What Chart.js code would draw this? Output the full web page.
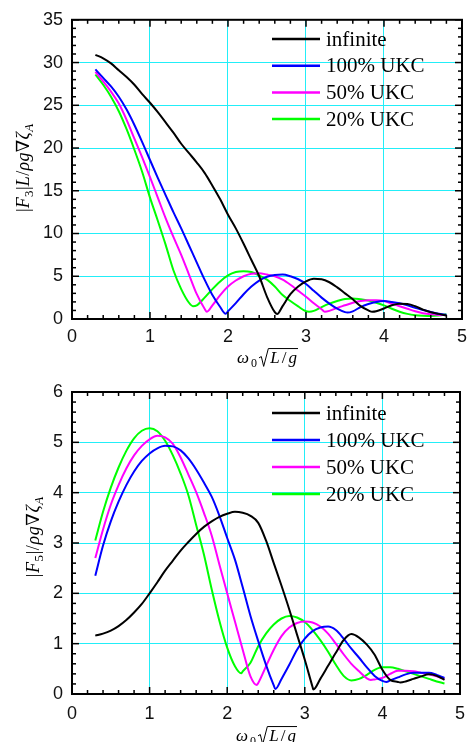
<!DOCTYPE html>
<html>
<head>
<meta charset="utf-8">
<script src="https://cdn.jsdelivr.net/npm/chart.js@4.4.0/dist/chart.umd.min.js"></script>
<style>
html, body { margin: 0; padding: 0; background: #fff; }
canvas { display: block; }
</style>
</head>
<body>
<canvas id="f3chart" width="474" height="370"></canvas>
<canvas id="f5chart" width="474" height="372"></canvas>
<script>
// frequency grid shared by every curve
const xGrid = [0.3,0.4,0.5,0.6,0.7,0.8,0.9,1.0,1.1,1.2,1.3,1.4,1.5,1.6,1.7,1.8,1.9,2.0,2.1,2.2,2.3,2.4,2.5,2.6,2.7,2.8,2.9,3.0,
               3.1,3.2,3.3,3.4,3.5,3.6,3.7,3.8,3.9,4.0,4.1,4.2,4.3,4.4,4.5,4.6,4.7,4.8];
const xTicks = [0, 1, 2, 3, 4, 5];

const seriesNames = ['infinite', '100% UKC', '50% UKC', '20% UKC'];
const seriesColors = ['#000000', '#0000ff', '#ff00ff', '#00ff00'];

// |F3| L / rho g V zeta_A
const f3YTicks = [0, 5, 10, 15, 20, 25, 30, 35];
const f3Infinite = [30.9,30.5,29.9,29.1,28.3,27.4,26.3,25.3,24.2,23.0,21.8,20.5,19.4,18.3,17.1,15.6,14.0,12.2,10.6,8.8,6.9,5.0,2.6,0.8,
                    1.5,2.9,3.8,4.4,4.7,4.65,4.3,3.7,3.0,2.3,1.5,1.0,0.9,1.23,1.6,1.78,1.75,1.5,1.1,0.8,0.6,0.42];
const f3Ukc100 = [29.2,28.2,27.2,26.0,24.5,22.7,20.7,18.6,16.5,14.5,12.5,10.6,8.6,6.6,4.6,2.8,1.4,0.9,1.85,2.9,3.8,4.5,4.95,5.15,
                  5.2,5.0,4.65,4.1,3.3,2.5,1.8,1.2,0.8,0.9,1.4,1.75,2.0,2.1,2.0,1.85,1.6,1.3,1.05,0.82,0.62,0.5];
const f3Ukc50 = [28.9,27.8,26.6,25.2,23.3,21.1,18.9,16.6,14.2,11.8,9.6,7.5,5.2,2.9,1.2,1.6,2.8,3.8,4.5,5.0,5.3,5.35,5.2,5.0,
                 4.6,4.0,3.3,2.6,1.85,1.15,0.95,1.3,1.6,1.9,2.1,2.2,2.2,2.1,1.8,1.5,1.2,0.9,0.68,0.55,0.48,0.45];
const f3Ukc20 = [28.6,27.4,26.0,24.3,22.2,19.8,17.2,14.2,11.5,8.7,5.7,3.5,1.9,1.6,2.5,3.5,4.4,5.1,5.5,5.6,5.5,5.1,4.6,3.8,
                 2.8,2.1,1.47,0.9,0.95,1.4,1.8,2.1,2.35,2.4,2.3,2.15,1.9,1.6,1.2,0.85,0.6,0.45,0.38,0.35,0.4,0.55];
// sharp minima that fall between grid points [x, y]
const f3InfiniteMin = [[2.63, 0.58], [3.85, 0.84]];
const f3Ukc100Min = [[1.97, 0.62], [3.53, 0.75]];
const f3Ukc50Min = [[1.73, 0.85], [3.24, 0.85]];
const f3Ukc20Min = [[1.55, 1.5], [3.04, 0.85]];

// |F5| / rho g V zeta_A
const f5YTicks = [0, 1, 2, 3, 4, 5, 6];
const f5Infinite = [1.16,1.2,1.26,1.35,1.47,1.62,1.79,2.0,2.22,2.45,2.65,2.85,3.02,3.18,3.32,3.43,3.52,3.58,3.62,3.6,3.54,3.4,3.05,2.6,
                    2.15,1.68,1.18,0.68,0.14,0.3,0.56,0.82,1.07,1.19,1.12,0.98,0.78,0.48,0.28,0.24,0.25,0.3,0.35,0.39,0.36,0.28];
const f5Ukc100 = [2.35,2.95,3.43,3.82,4.15,4.42,4.63,4.78,4.88,4.93,4.92,4.84,4.68,4.46,4.2,3.92,3.54,3.1,2.67,2.12,1.55,1.05,0.58,0.17,
                  0.3,0.58,0.88,1.1,1.25,1.32,1.34,1.27,1.1,0.9,0.72,0.53,0.36,0.26,0.27,0.33,0.39,0.42,0.42,0.42,0.38,0.32];
const f5Ukc50 = [2.7,3.27,3.76,4.15,4.48,4.74,4.93,5.06,5.13,5.1,4.97,4.7,4.36,4.01,3.6,3.15,2.57,2.0,1.44,0.88,0.35,0.22,0.55,0.88,
                 1.15,1.32,1.41,1.44,1.42,1.34,1.2,1.0,0.79,0.6,0.45,0.31,0.29,0.32,0.4,0.46,0.46,0.45,0.42,0.39,0.35,0.3];
const f5Ukc20 = [3.05,3.62,4.1,4.5,4.83,5.08,5.23,5.28,5.22,5.03,4.74,4.38,3.95,3.36,2.77,2.08,1.45,0.92,0.55,0.45,0.62,0.95,1.2,1.38,
                 1.5,1.55,1.52,1.43,1.27,1.07,0.84,0.58,0.36,0.27,0.3,0.38,0.48,0.53,0.53,0.5,0.45,0.4,0.35,0.3,0.25,0.21];
const f5InfiniteMin = [[3.11, 0.09], [4.23, 0.23]];
const f5Ukc100Min = [[2.62, 0.1], [4.05, 0.24]];
const f5Ukc50Min = [[2.38, 0.18], [3.85, 0.28]];
const f5Ukc20Min = [[2.18, 0.41]];

// axis titles, [text, kind]: n normal, i italic, s subscript, si italic subscript, rad square root
const xTitle = [['ω','i'], ['0','s'], ['√','rad'], ['L','i'], ['/','n'], ['g','i']];
const f3Title = [['|','n'], ['F','i'], ['3','s'], ['|','n'], ['L','i'], ['/','n'], ['ρ','i'], ['g','i'], ['∇','n'], ['ζ','i'], ['A','si']];
const f5Title = [['|','n'], ['F','i'], ['5','s'], ['|','n'], ['/','n'], ['ρ','i'], ['g','i'], ['∇','n'], ['ζ','i'], ['A','si']];

function toPoints(ys, extra) {
    const pts = xGrid.map((x, i) => ({ x: x, y: ys[i] }));
    extra.forEach(p => pts.push({ x: p[0], y: p[1] }));
    return pts.sort((a, b) => a.x - b.x);
}

// draws a small formula centred on 0 with its baseline on 0
function drawMath(ctx, segs, size, gap) {
    const fontFor = k => (k.indexOf('i') >= 0 ? 'italic ' : '') + (k[0] === 's' ? Math.round(size * 0.7) : size) + 'px "Liberation Serif", "DejaVu Serif", serif';
    const widths = segs.map(s => {
        if (s[1] === 'rad') return size * 0.55;
        ctx.font = fontFor(s[1]);
        return ctx.measureText(s[0]).width;
    });
    const total = widths.reduce((a, b) => a + b, 0) + gap * (segs.length - 1);
    let x = -total / 2, radX = null;
    ctx.fillStyle = '#000';
    ctx.textAlign = 'left';
    ctx.textBaseline = 'alphabetic';
    segs.forEach((s, i) => {
        if (s[1] === 'rad') {
            radX = x;
        } else {
            ctx.font = fontFor(s[1]);
            ctx.fillText(s[0], x, s[1][0] === 's' ? size * 0.22 : 0);
        }
        x += widths[i] + gap;
    });
    if (radX !== null) {
        const w = size * 0.55, top = -size * 0.85;
        ctx.strokeStyle = '#000';
        ctx.lineWidth = 1;
        ctx.beginPath();
        ctx.moveTo(radX, -size * 0.3);
        ctx.lineTo(radX + w * 0.25, -size * 0.38);
        ctx.lineTo(radX + w * 0.5, size * 0.2);
        ctx.lineTo(radX + w, top);
        ctx.lineTo(x - gap + 1, top);
        ctx.stroke();
    }
}

// box with inward ticks on all four sides
function drawFrame(chart, o) {
    const ctx = chart.ctx, a = chart.chartArea;
    const sx = chart.scales.x, sy = chart.scales.y;
    ctx.save();
    ctx.strokeStyle = '#000';
    ctx.lineWidth = 1.5;
    const tick = (x0, y0, x1, y1) => { ctx.beginPath(); ctx.moveTo(x0, y0); ctx.lineTo(x1, y1); ctx.stroke(); };
    let n = Math.round((sx.max - sx.min) / o.xMinor);
    for (let i = 0; i <= n; i++) {
        const v = sx.min + i * o.xMinor;
        const px = sx.getPixelForValue(v);
        const len = Math.abs(v / o.xMajor - Math.round(v / o.xMajor)) < 1e-6 ? 7 : 4;
        tick(px, a.bottom, px, a.bottom - len);
        tick(px, a.top, px, a.top + len);
    }
    n = Math.round((sy.max - sy.min) / o.yMinor);
    for (let i = 0; i <= n; i++) {
        const v = sy.min + i * o.yMinor;
        const py = sy.getPixelForValue(v);
        const len = Math.abs(v / o.yMajor - Math.round(v / o.yMajor)) < 1e-6 ? 7 : 4;
        tick(a.left, py, a.left + len, py);
        tick(a.right, py, a.right - len, py);
    }
    ctx.lineWidth = 2;
    ctx.strokeRect(a.left, a.top, a.right - a.left, a.bottom - a.top);
    ctx.restore();
}

// legend inside the plot, top right
function drawLegend(chart, o) {
    const ctx = chart.ctx;
    ctx.save();
    ctx.font = '21px "Liberation Serif", serif';
    ctx.textBaseline = 'middle';
    ctx.textAlign = 'left';
    chart.data.datasets.forEach((ds, i) => {
        const y = o.legendTop + i * o.legendGap;
        ctx.strokeStyle = ds.borderColor;
        ctx.lineWidth = 2.5;
        ctx.beginPath();
        ctx.moveTo(272, y);
        ctx.lineTo(320, y);
        ctx.stroke();
        ctx.fillStyle = '#000';
        ctx.fillText(ds.label, 326, y + 1);
    });
    ctx.restore();
}

const decor = {
    id: 'decor',
    afterDraw(chart, args, o) {
        const ctx = chart.ctx, a = chart.chartArea;
        drawFrame(chart, o);
        drawLegend(chart, o);
        ctx.save();
        ctx.translate((a.left + a.right) / 2, a.bottom + o.xGap);
        drawMath(ctx, xTitle, 17, 2);
        ctx.restore();
        ctx.save();
        ctx.translate(o.yBase, o.yCenter);
        ctx.rotate(-Math.PI / 2);
        drawMath(ctx, o.ySegs, o.ySize, o.yGap);
        ctx.restore();
    }
};

function makeChart(id, yTicks, series, layout) {
    const datasets = series.map((pts, i) => ({
        label: seriesNames[i],
        data: pts,
        borderColor: seriesColors[i],
        borderWidth: 2,
        pointRadius: 0,
        fill: false,
        cubicInterpolationMode: 'monotone'
    }));
    const tickFont = { family: '"Liberation Sans", Arial, sans-serif', size: 18 };
    new Chart(document.getElementById(id), {
        type: 'line',
        data: { datasets: datasets },
        options: {
            responsive: false,
            animation: false,
            devicePixelRatio: 1,
            layout: { padding: { top: layout.top, right: 9, left: 0, bottom: 0 } },
            scales: {
                x: {
                    type: 'linear',
                    min: xTicks[0],
                    max: xTicks[xTicks.length - 1],
                    ticks: { stepSize: xTicks[1] - xTicks[0], padding: layout.xPad, color: '#111', font: tickFont, maxRotation: 0 },
                    grid: { color: '#22eef8', lineWidth: 1, drawTicks: false },
                    border: { display: false },
                    afterFit: s => { s.height = layout.xHeight; }
                },
                y: {
                    type: 'linear',
                    min: yTicks[0],
                    max: yTicks[yTicks.length - 1],
                    ticks: { stepSize: yTicks[1] - yTicks[0], padding: 9, color: '#111', font: tickFont },
                    grid: { color: '#22eef8', lineWidth: 1, drawTicks: false },
                    border: { display: false },
                    afterFit: s => { s.width = 72; }
                }
            },
            plugins: {
                legend: { display: false },
                tooltip: { enabled: false },
                decor: {
                    xMajor: 1, xMinor: 0.2, yMajor: yTicks[1] - yTicks[0], yMinor: layout.yMinor,
                    legendTop: layout.legendTop, legendGap: layout.legendGap,
                    xGap: layout.xTitleGap, ySegs: layout.ySegs, ySize: layout.ySize, yGap: layout.yGap,
                    yBase: layout.yBase, yCenter: layout.yCenter
                }
            }
        },
        plugins: [decor]
    });
}

makeChart('f3chart', f3YTicks, [
    toPoints(f3Infinite, f3InfiniteMin),
    toPoints(f3Ukc100, f3Ukc100Min),
    toPoints(f3Ukc50, f3Ukc50Min),
    toPoints(f3Ukc20, f3Ukc20Min)
], { top: 16, xHeight: 51, xPad: 7, yMinor: 1, legendTop: 39, legendGap: 26.7,
     xTitleGap: 44, ySegs: f3Title, ySize: 18, yGap: 0.3, yBase: 29, yCenter: 168 });

makeChart('f5chart', f5YTicks, [
    toPoints(f5Infinite, f5InfiniteMin),
    toPoints(f5Ukc100, f5Ukc100Min),
    toPoints(f5Ukc50, f5Ukc50Min),
    toPoints(f5Ukc20, f5Ukc20Min)
], { top: 22, xHeight: 48, xPad: 9, yMinor: 0.2, legendTop: 43, legendGap: 27,
     xTitleGap: 47, ySegs: f5Title, ySize: 18, yGap: 0.6, yBase: 39, yCenter: 167 });
</script>
</body>
</html>
